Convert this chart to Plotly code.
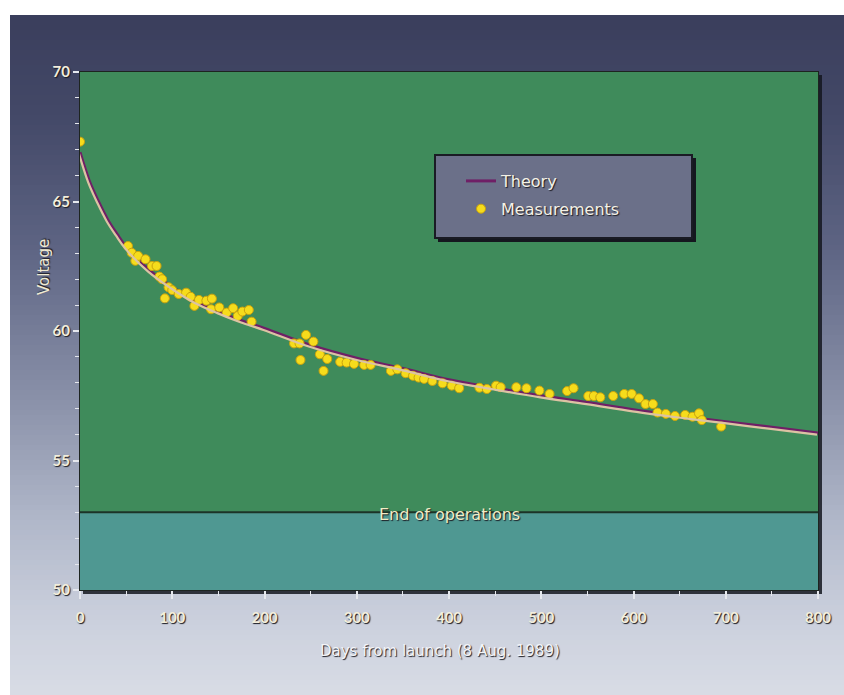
import plotly.graph_objects as go

# Measured bus voltage (days since launch, volts)
meas_days = [0, 52, 56, 60, 63, 71, 78, 83, 86, 89, 92, 96, 100, 107, 115, 120,
             124, 129, 137, 142, 143, 151, 159, 166, 171, 176, 183, 186, 232, 238,
             239, 245, 253, 260, 264, 268, 282, 289, 297, 308, 315, 337, 344, 353,
             361, 367, 373, 382, 393, 403, 411, 433, 441, 451, 456, 473, 484, 498,
             509, 528, 535, 551, 557, 564, 578, 590, 598, 606, 613, 621, 626, 635,
             645, 656, 664, 671, 674, 695]
meas_volts = [67.31, 63.28, 63.02, 62.71, 62.90, 62.77, 62.51, 62.51, 62.10, 62.00,
              61.26, 61.69, 61.58, 61.43, 61.48, 61.32, 60.97, 61.20, 61.17, 60.84,
              61.25, 60.91, 60.71, 60.88, 60.58, 60.75, 60.81, 60.36, 59.52, 59.52,
              58.88, 59.85, 59.59, 59.10, 58.46, 58.92, 58.81, 58.78, 58.73, 58.69,
              58.69, 58.46, 58.52, 58.37, 58.27, 58.20, 58.15, 58.07, 57.98, 57.89,
              57.79, 57.81, 57.76, 57.89, 57.83, 57.83, 57.79, 57.70, 57.57, 57.68,
              57.79, 57.49, 57.49, 57.44, 57.49, 57.57, 57.57, 57.40, 57.18, 57.18,
              56.85, 56.80, 56.72, 56.76, 56.69, 56.82, 56.56, 56.31]

# Theoretical decay curve
theory_days = [0, 10, 20, 30, 40, 50, 75, 100, 125, 150, 175, 200, 250, 300, 350,
               400, 450, 500, 550, 600, 650, 700, 750, 800]
theory_volts = [66.9, 65.8, 65.0, 64.3, 63.75, 63.25, 62.35, 61.7, 61.15, 60.75,
                60.4, 60.1, 59.45, 58.95, 58.55, 58.12, 57.8, 57.5, 57.24, 56.96,
                56.72, 56.5, 56.28, 56.06]

end_of_ops = 53
x_range = [0, 800]
y_range = [50, 70]
x_ticks = [0, 100, 200, 300, 400, 500, 600, 700, 800]
y_ticks = [50, 55, 60, 65, 70]

W, H = 844, 695
ML, MR, MT, MB = 80, 26, 72, 105
PW, PH = W - ML - MR, H - MT - MB


def px_x(px):
    return (px - ML) / PW


def px_y(py):
    return (H - MB - py) / PH


TICK_FONT = "Lato, 'Open Sans', sans-serif"
TEXT_FONT = "'DejaVu Sans', Verdana, sans-serif"
SHADOW = "1px 1px 1px #1a1a22"

# Vertical backdrop gradient (pixel row -> rgb)
stops = [(15, (58, 62, 92)), (120, (68, 73, 104)), (250, (94, 101, 132)),
         (400, (138, 145, 169)), (520, (176, 183, 201)), (620, (203, 208, 221)),
         (695, (216, 220, 229))]


def grad_color(py):
    for (a, ca), (b, cb) in zip(stops, stops[1:]):
        if a <= py <= b:
            t = (py - a) / (b - a)
            c = [round(ca[i] + (cb[i] - ca[i]) * t) for i in range(3)]
            return f"rgb({c[0]},{c[1]},{c[2]})"
    return "rgb(216,220,229)"


shapes = []
band = 5
for top in range(15, 695, band):
    shapes.append(dict(type="rect", xref="paper", yref="paper", layer="below",
                       x0=px_x(10), x1=px_x(W + 2), y0=px_y(top + band + 0.5), y1=px_y(top),
                       fillcolor=grad_color(top + band / 2), line=dict(width=0)))

# Drop shadow of the plot frame
shapes.append(dict(type="rect", xref="paper", yref="paper", layer="below",
                   x0=px_x(ML + 3), x1=px_x(ML + PW + 4), y0=px_y(MT + PH + 4), y1=px_y(MT + 3),
                   fillcolor="rgba(20,22,30,0.85)", line=dict(width=0)))

# Operating region and region below the end-of-operations voltage
shapes.append(dict(type="rect", xref="x", yref="y", layer="below",
                   x0=x_range[0], x1=x_range[1], y0=end_of_ops, y1=y_range[1],
                   fillcolor="#3f8b5b", line=dict(width=0)))
shapes.append(dict(type="rect", xref="x", yref="y", layer="below",
                   x0=x_range[0], x1=x_range[1], y0=y_range[0], y1=end_of_ops,
                   fillcolor="#4f9892", line=dict(width=0)))
shapes.append(dict(type="line", xref="x", yref="y", layer="below",
                   x0=x_range[0], x1=x_range[1], y0=end_of_ops, y1=end_of_ops,
                   line=dict(color="#1c3327", width=2)))
# Frame
shapes.append(dict(type="rect", xref="x domain", yref="y domain", layer="below",
                   x0=0, x1=1, y0=0, y1=1, line=dict(color="#1d2420", width=2)))

# Legend panel with shadow
lx0, lx1, ly0, ly1 = 435, 692, 155, 238
shapes.append(dict(type="rect", xref="paper", yref="paper", layer="above",
                   x0=px_x(lx0 + 3), x1=px_x(lx1 + 4), y0=px_y(ly1 + 4), y1=px_y(ly0 + 3),
                   fillcolor="#15171f", line=dict(width=0)))
shapes.append(dict(type="rect", xref="paper", yref="paper", layer="above",
                   x0=px_x(lx0), x1=px_x(lx1), y0=px_y(ly1), y1=px_y(ly0),
                   fillcolor="#6b7089", line=dict(color="#1a1b24", width=2)))

fig = go.Figure()

# Light edge under the theory curve (drawn on a slightly offset overlay axis)
fig.add_trace(go.Scatter(x=theory_days, y=theory_volts, mode="lines",
                         line=dict(color="#dcc3a3", width=2.2, shape="spline"),
                         xaxis="x2", yaxis="y2", showlegend=False, hoverinfo="skip"))
fig.add_trace(go.Scatter(x=theory_days, y=theory_volts, mode="lines", name="Theory",
                         legendgroup="a",
                         line=dict(color="#6f1f66", width=3, shape="spline")))
fig.add_trace(go.Scatter(x=meas_days, y=meas_volts, mode="markers", name="Measurements",
                         legendgroup="b",
                         marker=dict(size=9, color="#f6dc1c",
                                     line=dict(color="#c9a20e", width=1))))

tick_font = dict(family=TICK_FONT, size=15, color="#f3eedc", weight=700, shadow=SHADOW)

fig.update_layout(
    width=W, height=H,
    margin=dict(l=ML, r=MR, t=MT, b=MB),
    paper_bgcolor="white",
    plot_bgcolor="rgba(0,0,0,0)",
    shapes=shapes,
    showlegend=True,
    legend=dict(x=px_x(461), y=px_y(164), xanchor="left", yanchor="top",
                bgcolor="rgba(0,0,0,0)", borderwidth=0, tracegroupgap=4,
                traceorder="grouped",
                font=dict(family=TEXT_FONT, size=16, color="#f4f1e6", shadow=SHADOW)),
    xaxis=dict(range=x_range, tickmode="array", tickvals=x_ticks, showgrid=False,
               zeroline=False, showline=False, ticks="outside", ticklen=8,
               tickwidth=1.5, tickcolor="#e6e8ee", ticklabelstandoff=6,
               minor=dict(dtick=50, ticks="outside", ticklen=5, tickwidth=1.2,
                          tickcolor="#e6e8ee", showgrid=False),
               tickfont=tick_font),
    yaxis=dict(range=y_range, tickmode="array", tickvals=y_ticks, showgrid=False,
               zeroline=False, showline=False, ticks="outside", ticklen=6,
               tickwidth=1.5, tickcolor="#e6e8ee",
               minor=dict(dtick=1, ticks="outside", ticklen=4, tickwidth=1.2,
                          tickcolor="#e6e8ee", showgrid=False),
               tickfont=tick_font),
    xaxis2=dict(overlaying="x", visible=False,
                range=[x_range[0] + 1.1, x_range[1] + 1.1]),
    yaxis2=dict(overlaying="y", visible=False,
                range=[y_range[0] + 0.06, y_range[1] + 0.06]),
    annotations=[
        dict(text="End of operations", x=400, y=end_of_ops, xref="x", yref="y",
             showarrow=False, yshift=-2,
             font=dict(family=TEXT_FONT, size=16, color="#f1edc6", shadow=SHADOW)),
        dict(text="Voltage", x=px_x(33), y=px_y(267), xref="paper", yref="paper",
             showarrow=False, textangle=-90,
             font=dict(family=TEXT_FONT, size=15, color="#f0ead2", shadow=SHADOW)),
        dict(text="Days from launch (8 Aug. 1989)", x=px_x(440), y=px_y(662),
             xref="paper", yref="paper", showarrow=False,
             font=dict(family=TEXT_FONT, size=15, color="#f4f5f8", shadow=SHADOW)),
    ],
)

fig.write_html("out.html")
